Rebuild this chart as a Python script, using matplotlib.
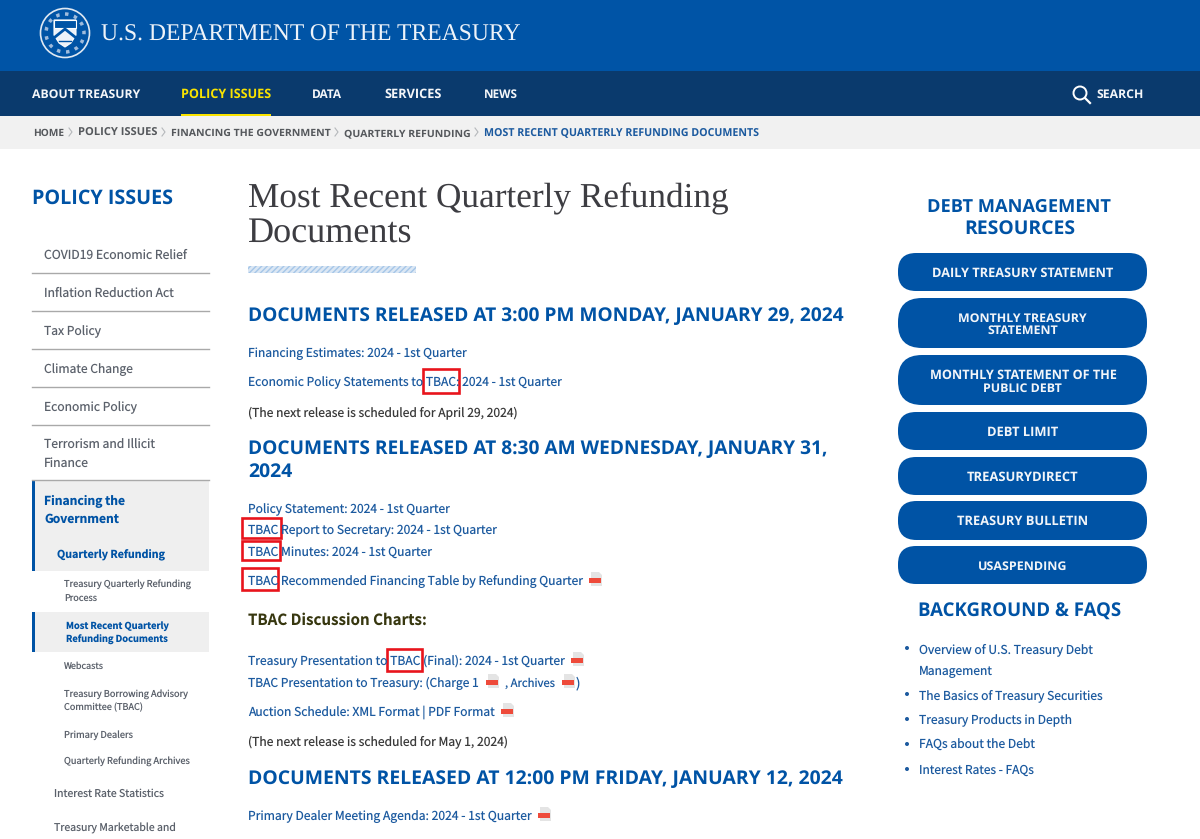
import matplotlib
matplotlib.use("Agg")
from matplotlib import pyplot as plt
from matplotlib.patches import Rectangle, Circle, FancyBboxPatch, Polygon

BODY = "Noto Sans CJK SC"
CAPS = "Open Sans"
SERIF = "Liberation Serif"
BLUE = "#0053a5"
LINK = "#1c5a9f"
GREY = "#5b616b"

plt.rcParams["text.hinting"] = "no_hinting"
plt.rcParams["hatch.linewidth"] = 1.0

fig = plt.figure(figsize=(12, 8.39), dpi=100)
ax = fig.add_axes([0, 0, 1, 1])
ax.set_xlim(0, 1200)
ax.set_ylim(839, 0)
ax.axis("off")
renderer = fig.canvas.get_renderer()


# text from left edge to right edge, font size is fitted to that width
def put(s, x0, x1, y, color, weight="normal", family=BODY, size=12):
    t = ax.text(x0, y, s, color=color, fontsize=size, fontweight=weight,
                family=family, va="baseline", ha="left")
    if x1 is not None:
        w = t.get_window_extent(renderer).width
        t.set_fontsize(size * (x1 - x0) / w)
    return t


def put_rows(texts, lefts, rights, bases, color, **kw):
    for s, a, b, y in zip(texts, lefts, rights, bases):
        put(s, a, b, y, color, **kw)


def box(x0, y0, x1, y1, color):
    ax.add_patch(Rectangle((x0, y0), x1 - x0, y1 - y0, fc=color, ec="none"))


# page bands
box(0, 0, 1200, 71, "#0054a6")
box(0, 71, 1200, 116, "#0a3a6d")
box(0, 116, 1200, 149, "#f1f1f1")
box(181, 114, 271, 116, "#f9e300")

# seal
sx, sy = 65, 33
ax.add_patch(Circle((sx, sy), 24.5, fc="#0054a6", ec="#dfe8f2", lw=1.2))
ax.add_patch(Circle((sx, sy), 19, fc="none", ec="#9fbbdc", lw=2.5, ls=":"))
ax.add_patch(Polygon([[sx - 11, sy - 13], [sx + 11, sy - 13], [sx + 11, sy + 2],
                      [sx + 6, sy + 10], [sx, sy + 14], [sx - 6, sy + 10], [sx - 11, sy + 2]],
                     fc="#eef3f9", ec="white", lw=0.8))
ax.add_patch(Rectangle((sx - 11, sy - 13), 22, 8, fc="#0054a6", ec="white", lw=0.8))
ax.plot([sx - 10, sx, sx + 10], [sy + 4, sy - 4, sy + 4], color="#0054a6", lw=2)
ax.plot([sx - 6, sx + 6], [sy + 8, sy + 8], color="#0054a6", lw=1)

put("U.S. DEPARTMENT OF THE TREASURY", 101, 520, 41, "#eef3f9", family=SERIF)

# nav
nav_labels = ["ABOUT TREASURY", "POLICY ISSUES", "DATA", "SERVICES", "NEWS", "SEARCH"]
nav_left = [32, 181, 312, 384, 484, 1096]
nav_right = [140, 271, 342, 441, 518, 1143]
for s, a, b in zip(nav_labels, nav_left, nav_right):
    put(s, a, b, 98, "#f9e300" if s == "POLICY ISSUES" else "#f4f6f9", weight="bold", family=CAPS)
ax.add_patch(Circle((1080, 93), 6.5, fc="none", ec="white", lw=1.4))
ax.plot([1085, 1090], [98, 103], color="white", lw=1.6)

# breadcrumbs
crumb_labels = ["HOME", "POLICY ISSUES", "FINANCING THE GOVERNMENT", "QUARTERLY REFUNDING",
                "MOST RECENT QUARTERLY REFUNDING DOCUMENTS"]
crumb_left = [33, 78, 171, 344, 484]
crumb_right = [64, 157, 330, 470, 758]
for i, (s, a, b) in enumerate(zip(crumb_labels, crumb_left, crumb_right)):
    put(s, a, b, 136, "#1c5a9f" if i == 4 else "#55585c", weight="bold", family=CAPS)
    if i < 4:
        ax.plot([b + 5, b + 8, b + 5], [128, 132, 136], color="#b5b8bb", lw=0.8)

# left menu
put("POLICY ISSUES", 32, 173, 204, BLUE, weight="bold", family=CAPS)
side_labels = ["COVID19 Economic Relief", "Inflation Reduction Act", "Tax Policy", "Climate Change",
               "Economic Policy", "Terrorism and Illicit", "Finance"]
side_right = [187, 174, 101, 133, 137, 155, 89]
side_base = [259, 297, 335, 373, 411, 449, 467]
put_rows(side_labels, [44] * 7, side_right, side_base, GREY)
for y in [273, 311, 349, 387, 425, 480]:
    ax.plot([32, 209], [y, y], color="#a9a9a9", lw=1)

box(32, 481, 209, 571, "#efefef")
box(32, 481, 35, 571, BLUE)
box(32, 612, 209, 652, "#efefef")
box(32, 612, 35, 652, BLUE)
active_labels = ["Financing the", "Government", "Quarterly Refunding", "Most Recent Quarterly", "Refunding Documents"]
active_left = [44, 44, 57, 66, 66]
active_right = [125, 119, 165, 169, 168]
active_base = [505, 523, 558, 629, 643]
put_rows(active_labels, active_left, active_right, active_base, BLUE, weight="bold")

sub_labels = ["Treasury Quarterly Refunding", "Process", "Webcasts", "Treasury Borrowing Advisory",
              "Committee (TBAC)", "Primary Dealers", "Quarterly Refunding Archives",
              "Interest Rate Statistics", "Treasury Marketable and"]
sub_left = [64, 64, 64, 64, 64, 64, 64, 54, 54]
sub_right = [191, 97, 104, 188, 143, 133, 190, 164, 176]
sub_base = [588, 602, 669, 697, 710, 738, 765, 797, 832]
put_rows(sub_labels, sub_left, sub_right, sub_base, GREY)

# main column
put("Most Recent Quarterly Refunding", 248, 727, 207, "#3d3d42", family=SERIF)
put("Documents", 248, 412, 242, "#3d3d42", family=SERIF)
ax.add_patch(Rectangle((248, 266), 168, 7, fc="#dbe7f4", ec="#a5c6e8", hatch="//////", lw=0))

head_labels = ["DOCUMENTS RELEASED AT 3:00 PM MONDAY, JANUARY 29, 2024",
               "DOCUMENTS RELEASED AT 8:30 AM WEDNESDAY, JANUARY 31,", "2024",
               "DOCUMENTS RELEASED AT 12:00 PM FRIDAY, JANUARY 12, 2024"]
head_right = [842, 827, 292, 841]
head_base = [321, 454, 477, 784]
put_rows(head_labels, [248] * 4, head_right, head_base, BLUE, weight="bold", family=CAPS)

link_labels = ["Financing Estimates: 2024 - 1st Quarter",
               "Economic Policy Statements to TBAC: 2024 - 1st Quarter",
               "Policy Statement: 2024 - 1st Quarter",
               "TBAC Report to Secretary: 2024 - 1st Quarter",
               "TBAC Minutes: 2024 - 1st Quarter",
               "TBAC Recommended Financing Table by Refunding Quarter",
               "Treasury Presentation to TBAC (Final): 2024 - 1st Quarter",
               "TBAC Presentation to Treasury: (Charge 1",
               "Auction Schedule: XML Format | PDF Format",
               "Primary Dealer Meeting Agenda: 2024 - 1st Quarter"]
link_right = [467, 562, 450, 497, 432, 583, 565, 479, 495, 532]
link_base = [357, 386, 513, 534, 556, 585, 665, 687, 716, 820]
put_rows(link_labels, [248] * 10, link_right, link_base, LINK)
put(", Archives", 505, 555, 687, LINK)
put(")", 576, None, 687, LINK, size=9.6)

note_labels = ["(The next release is scheduled for April 29, 2024)",
               "(The next release is scheduled for May 1, 2024)"]
put_rows(note_labels, [248, 248], [518, 508], [416, 746], "#3a3a3a")
put("TBAC Discussion Charts:", 248, 427, 625, "#37370f", weight="bold")

# pdf icons
for x, y in [(596, 579), (578, 659), (493, 681), (569, 681), (508, 710), (545, 814)]:
    ax.add_patch(Polygon([[x - 5, y - 7], [x + 3, y - 7], [x + 6, y - 4], [x + 6, y + 7], [x - 5, y + 7]],
                         fc="#e4e4e4", ec="none"))
    box(x - 7, y - 1, x + 5, y + 4, "#ee4a3a")

# red boxes around TBAC
for x0, y0, x1, y1 in [(423, 369, 459, 393), (242, 518, 281, 538), (242, 541, 280, 560),
                       (242, 568, 278, 590), (387, 649, 422, 671)]:
    ax.add_patch(Rectangle((x0, y0), x1 - x0, y1 - y0, fc="none", ec="#e8141c", lw=1.9))

# right column
res_labels = ["DEBT MANAGEMENT", "RESOURCES", "BACKGROUND & FAQS"]
put_rows(res_labels, [927, 964, 918], [1111, 1075, 1121], [212, 234, 617], BLUE, weight="bold", family=CAPS)

button_top = [253, 298, 355, 412, 457, 501, 546]
button_bottom = [291, 348, 405, 450, 495, 540, 584]
for y0, y1 in zip(button_top, button_bottom):
    r = (y1 - y0) / 2 - 1
    ax.add_patch(FancyBboxPatch((898 + r, y0 + r), 249 - 2 * r, y1 - y0 - 2 * r,
                                boxstyle="round,pad=%f,rounding_size=%f" % (r, r), fc=BLUE, ec="none"))

button_labels = ["DAILY TREASURY STATEMENT", "MONTHLY TREASURY", "STATEMENT", "MONTHLY STATEMENT OF THE",
                 "PUBLIC DEBT", "DEBT LIMIT", "TREASURYDIRECT", "TREASURY BULLETIN", "USASPENDING"]
button_left = [932, 958, 987, 930, 983, 987, 967, 957, 978]
button_right = [1113, 1087, 1058, 1116, 1062, 1058, 1078, 1088, 1067]
button_base = [277, 322, 334, 379, 392, 436, 481, 525, 570]
put_rows(button_labels, button_left, button_right, button_base, "#f2f5f9", weight="bold", family=CAPS)

faq_labels = ["Overview of U.S. Treasury Debt", "Management", "The Basics of Treasury Securities",
              "Treasury Products in Depth", "FAQs about the Debt", "Interest Rates - FAQs"]
faq_right = [1093, 993, 1103, 1072, 1035, 1034]
faq_base = [653, 675, 699, 724, 749, 774]
put_rows(faq_labels, [919] * 6, faq_right, faq_base, LINK)
for y in [648, 694, 719, 744, 769]:
    ax.add_patch(Circle((907, y), 2, fc=LINK, ec="none"))

fig.savefig("out.png", dpi=100)
